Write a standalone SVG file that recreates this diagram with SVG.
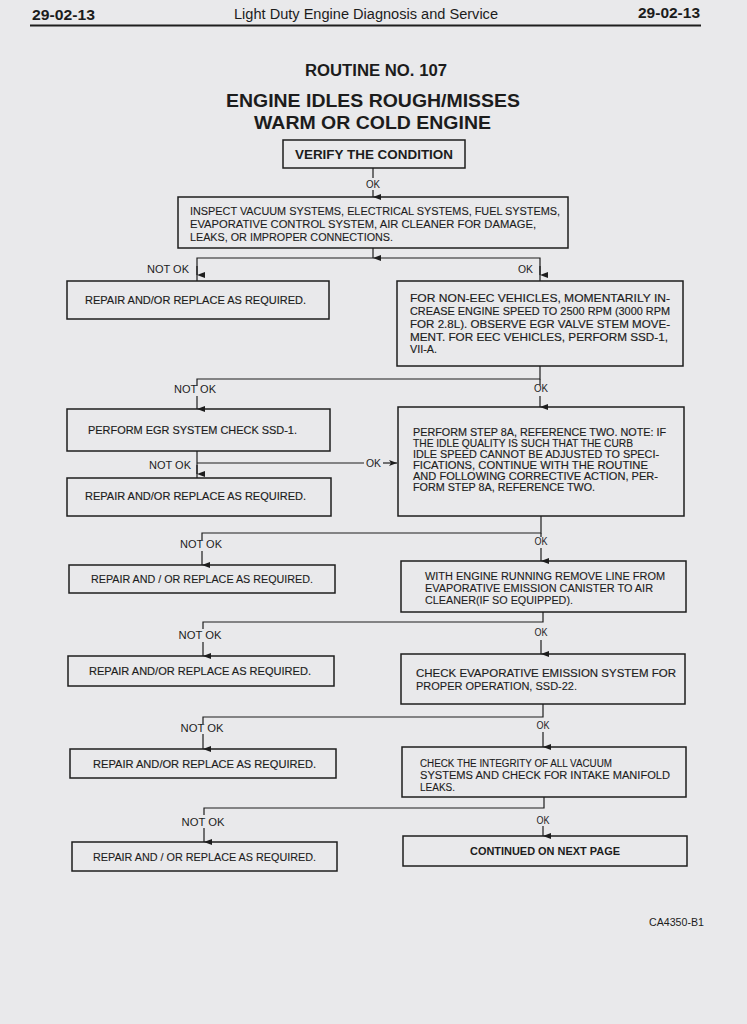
<svg xmlns="http://www.w3.org/2000/svg" width="747" height="1024" viewBox="0 0 747 1024">
<defs>
<marker id="ah" viewBox="0 0 6 8" refX="3" refY="8" markerWidth="6" markerHeight="8" orient="auto" markerUnits="userSpaceOnUse">
<path d="M0,0 L6,0 L3,8 Z" fill="#1e1e1e"/>
</marker>
<marker id="ar" viewBox="0 0 8 6" refX="8" refY="3" markerWidth="8" markerHeight="6" orient="auto" markerUnits="userSpaceOnUse">
<path d="M0,0 L8,3 L0,6 L2,3 Z" fill="#1e1e1e"/>
</marker>
</defs>
<style>
text{font-family:"Liberation Sans",Arial,sans-serif;fill:#1c1c1c}
.box{fill:none;stroke:#1e1e1e;stroke-width:1.5}
.ln{fill:none;stroke:#1e1e1e;stroke-width:1.2}
.t{font-size:10.6px;stroke:#1c1c1c;stroke-width:0.15}
.s{font-size:10px;stroke:#1c1c1c;stroke-width:0.1}
.lab{font-size:10px}
.b{font-weight:bold}
</style>
<rect width="747" height="1024" fill="#e9e9eb"/>
<g id="header">
<text x="32" y="20" class="b" font-size="14" textLength="63" lengthAdjust="spacingAndGlyphs">29-02-13</text>
<text x="234" y="19" font-size="14" textLength="264" lengthAdjust="spacingAndGlyphs">Light Duty Engine Diagnosis and Service</text>
<text x="638" y="18" class="b" font-size="14" textLength="62" lengthAdjust="spacingAndGlyphs">29-02-13</text>
<line x1="30" y1="25.5" x2="701" y2="25.5" stroke="#1e1e1e" stroke-width="2"/>
</g>
<g id="title">
<text x="305" y="76" class="b" font-size="16" textLength="142" lengthAdjust="spacingAndGlyphs">ROUTINE NO. 107</text>
<text x="226" y="107" class="b" font-size="19" textLength="294" lengthAdjust="spacingAndGlyphs">ENGINE IDLES ROUGH/MISSES</text>
<text x="254" y="129" class="b" font-size="19" textLength="237" lengthAdjust="spacingAndGlyphs">WARM OR COLD ENGINE</text>
</g>
<g id="connectors">
<line class="ln" x1="373" y1="168" x2="373" y2="178"/>
<line class="ln" x1="373" y1="190" x2="373" y2="197" marker-end="url(#ah)"/>
<text x="373" y="188" class="lab" text-anchor="middle" textLength="14" lengthAdjust="spacingAndGlyphs">OK</text>
<line class="ln" x1="373" y1="248" x2="373" y2="258" marker-end="url(#ah)"/>
<polyline class="ln" points="197,281 197,258 540,258 540,281"/>
<line class="ln" x1="197" y1="266" x2="197" y2="275" marker-end="url(#ah)"/>
<line class="ln" x1="540" y1="266" x2="540" y2="275" marker-end="url(#ah)"/>
<text x="147" y="273" class="lab" textLength="42" lengthAdjust="spacingAndGlyphs">NOT OK</text>
<text x="518" y="273" class="lab" textLength="15" lengthAdjust="spacingAndGlyphs">OK</text>
<polyline class="ln" points="197,386 197,379 540,379 540,366"/>
<line class="ln" x1="540" y1="379" x2="540" y2="385"/>
<line class="ln" x1="197" y1="396" x2="197" y2="409" marker-end="url(#ah)"/>
<line class="ln" x1="540" y1="396" x2="540" y2="407" marker-end="url(#ah)"/>
<text x="195" y="393" class="lab" text-anchor="middle" textLength="42" lengthAdjust="spacingAndGlyphs">NOT OK</text>
<text x="541" y="392" class="lab" text-anchor="middle" textLength="14" lengthAdjust="spacingAndGlyphs">OK</text>
<line class="ln" x1="197" y1="451" x2="197" y2="478"/>
<line class="ln" x1="197" y1="465" x2="197" y2="474" marker-end="url(#ah)"/>
<line class="ln" x1="197" y1="463" x2="364" y2="463"/>
<line class="ln" x1="383" y1="463" x2="397" y2="463" marker-end="url(#ar)"/>
<text x="366" y="467" class="lab" textLength="15" lengthAdjust="spacingAndGlyphs">OK</text>
<text x="149" y="469" class="lab" textLength="42" lengthAdjust="spacingAndGlyphs">NOT OK</text>
<polyline class="ln" points="202,540 202,533 541,533 541,516"/>
<line class="ln" x1="202" y1="551" x2="202" y2="565" marker-end="url(#ah)"/>
<line class="ln" x1="541" y1="533" x2="541" y2="537"/>
<line class="ln" x1="541" y1="548" x2="541" y2="561" marker-end="url(#ah)"/>
<text x="201" y="548" class="lab" text-anchor="middle" textLength="42" lengthAdjust="spacingAndGlyphs">NOT OK</text>
<text x="541" y="545" class="lab" text-anchor="middle" textLength="13" lengthAdjust="spacingAndGlyphs">OK</text>
<polyline class="ln" points="203,629 203,622 543,622 543,612"/>
<line class="ln" x1="203" y1="642" x2="203" y2="656" marker-end="url(#ah)"/>
<line class="ln" x1="541" y1="640" x2="541" y2="654" marker-end="url(#ah)"/>
<text x="200" y="639" class="lab" text-anchor="middle" textLength="43" lengthAdjust="spacingAndGlyphs">NOT OK</text>
<text x="541" y="636" class="lab" text-anchor="middle" textLength="13" lengthAdjust="spacingAndGlyphs">OK</text>
<polyline class="ln" points="203,724 203,717 543,717 543,704"/>
<line class="ln" x1="203" y1="734" x2="203" y2="749" marker-end="url(#ah)"/>
<line class="ln" x1="543" y1="732" x2="543" y2="747" marker-end="url(#ah)"/>
<text x="202" y="732" class="lab" text-anchor="middle" textLength="43" lengthAdjust="spacingAndGlyphs">NOT OK</text>
<text x="543" y="729" class="lab" text-anchor="middle" textLength="13" lengthAdjust="spacingAndGlyphs">OK</text>
<polyline class="ln" points="204,815 204,808 544,808 544,797"/>
<line class="ln" x1="204" y1="828" x2="204" y2="842" marker-end="url(#ah)"/>
<line class="ln" x1="543" y1="826" x2="543" y2="836" marker-end="url(#ah)"/>
<text x="203" y="826" class="lab" text-anchor="middle" textLength="43" lengthAdjust="spacingAndGlyphs">NOT OK</text>
<text x="543" y="824" class="lab" text-anchor="middle" textLength="13" lengthAdjust="spacingAndGlyphs">OK</text>
</g>
<g id="n1">
<rect class="box" x="283" y="140" width="182" height="28"/>
<text x="295" y="159" class="b" font-size="12" textLength="158" lengthAdjust="spacingAndGlyphs">VERIFY THE CONDITION</text>
</g>
<g id="n2">
<rect class="box" x="178" y="197" width="390" height="51"/>
<text x="190" y="215" class="s" textLength="370" lengthAdjust="spacingAndGlyphs">INSPECT VACUUM SYSTEMS, ELECTRICAL SYSTEMS, FUEL SYSTEMS,</text>
<text x="190" y="228" class="s" textLength="346" lengthAdjust="spacingAndGlyphs">EVAPORATIVE CONTROL SYSTEM, AIR CLEANER FOR DAMAGE,</text>
<text x="190" y="241" class="s" textLength="203" lengthAdjust="spacingAndGlyphs">LEAKS, OR IMPROPER CONNECTIONS.</text>
</g>
<g id="n3">
<rect class="box" x="67" y="281" width="262" height="38"/>
<text x="85" y="304" class="t" textLength="221" lengthAdjust="spacingAndGlyphs">REPAIR AND/OR REPLACE AS REQUIRED.</text>
</g>
<g id="n4">
<rect class="box" x="397" y="281" width="286" height="85"/>
<text x="410" y="302" class="t" textLength="260" lengthAdjust="spacingAndGlyphs">FOR NON-EEC VEHICLES, MOMENTARILY IN-</text>
<text x="410" y="315" class="t" textLength="260" lengthAdjust="spacingAndGlyphs">CREASE ENGINE SPEED TO 2500 RPM (3000 RPM</text>
<text x="410" y="328" class="t" textLength="260" lengthAdjust="spacingAndGlyphs">FOR 2.8L). OBSERVE EGR VALVE STEM MOVE-</text>
<text x="410" y="341" class="t" textLength="258" lengthAdjust="spacingAndGlyphs">MENT. FOR EEC VEHICLES, PERFORM SSD-1,</text>
<text x="410" y="353" class="t" textLength="27" lengthAdjust="spacingAndGlyphs">VII-A.</text>
</g>
<g id="n5">
<rect class="box" x="67" y="409" width="263" height="42"/>
<text x="88" y="434" class="t" textLength="209" lengthAdjust="spacingAndGlyphs">PERFORM EGR SYSTEM CHECK SSD-1.</text>
</g>
<g id="n6">
<rect class="box" x="67" y="478" width="264" height="38"/>
<text x="85" y="500" class="t" textLength="221" lengthAdjust="spacingAndGlyphs">REPAIR AND/OR REPLACE AS REQUIRED.</text>
</g>
<g id="n7">
<rect class="box" x="398" y="407" width="286" height="109"/>
<text x="413" y="436" class="t" textLength="253" lengthAdjust="spacingAndGlyphs">PERFORM STEP 8A, REFERENCE TWO. NOTE: IF</text>
<text x="413" y="447" class="t" textLength="220" lengthAdjust="spacingAndGlyphs">THE IDLE QUALITY IS SUCH THAT THE CURB</text>
<text x="413" y="458" class="t" textLength="246" lengthAdjust="spacingAndGlyphs">IDLE SPEED CANNOT BE ADJUSTED TO SPECI-</text>
<text x="413" y="469" class="t" textLength="235" lengthAdjust="spacingAndGlyphs">FICATIONS, CONTINUE WITH THE ROUTINE</text>
<text x="413" y="480" class="t" textLength="245" lengthAdjust="spacingAndGlyphs">AND FOLLOWING CORRECTIVE ACTION, PER-</text>
<text x="413" y="491" class="t" textLength="182" lengthAdjust="spacingAndGlyphs">FORM STEP 8A, REFERENCE TWO.</text>
</g>
<g id="n8">
<rect class="box" x="69" y="565" width="266" height="28"/>
<text x="91" y="583" class="s" textLength="222" lengthAdjust="spacingAndGlyphs">REPAIR AND / OR REPLACE AS REQUIRED.</text>
</g>
<g id="n9">
<rect class="box" x="401" y="561" width="285" height="51"/>
<text x="425" y="580" class="s" textLength="240" lengthAdjust="spacingAndGlyphs">WITH ENGINE RUNNING REMOVE LINE FROM</text>
<text x="425" y="592" class="s" textLength="228" lengthAdjust="spacingAndGlyphs">EVAPORATIVE EMISSION CANISTER TO AIR</text>
<text x="425" y="604" class="s" textLength="148" lengthAdjust="spacingAndGlyphs">CLEANER(IF SO EQUIPPED).</text>
</g>
<g id="n10">
<rect class="box" x="68" y="656" width="266" height="30"/>
<text x="89" y="675" class="t" textLength="222" lengthAdjust="spacingAndGlyphs">REPAIR AND/OR REPLACE AS REQUIRED.</text>
</g>
<g id="n11">
<rect class="box" x="401" y="654" width="284" height="50"/>
<text x="416" y="677" class="t" textLength="260" lengthAdjust="spacingAndGlyphs">CHECK EVAPORATIVE EMISSION SYSTEM FOR</text>
<text x="416" y="690" class="s" textLength="161" lengthAdjust="spacingAndGlyphs">PROPER OPERATION, SSD-22.</text>
</g>
<g id="n12">
<rect class="box" x="70" y="749" width="266" height="29"/>
<text x="93" y="768" class="t" textLength="223" lengthAdjust="spacingAndGlyphs">REPAIR AND/OR REPLACE AS REQUIRED.</text>
</g>
<g id="n13">
<rect class="box" x="402" y="747" width="284" height="50"/>
<text x="420" y="767" class="s" textLength="192" lengthAdjust="spacingAndGlyphs">CHECK THE INTEGRITY OF ALL VACUUM</text>
<text x="420" y="779" class="s" textLength="250" lengthAdjust="spacingAndGlyphs">SYSTEMS AND CHECK FOR INTAKE MANIFOLD</text>
<text x="420" y="791" class="s" textLength="35" lengthAdjust="spacingAndGlyphs">LEAKS.</text>
</g>
<g id="n14">
<rect class="box" x="72" y="842" width="265" height="29"/>
<text x="93" y="861" class="s" textLength="223" lengthAdjust="spacingAndGlyphs">REPAIR AND / OR REPLACE AS REQUIRED.</text>
</g>
<g id="n15">
<rect class="box" x="403" y="836" width="284" height="30"/>
<text x="470" y="855" class="b" font-size="10" textLength="150" lengthAdjust="spacingAndGlyphs">CONTINUED ON NEXT PAGE</text>
</g>
<text x="704" y="926" font-size="11" text-anchor="end" textLength="55" lengthAdjust="spacingAndGlyphs">CA4350-B1</text>
</svg>
